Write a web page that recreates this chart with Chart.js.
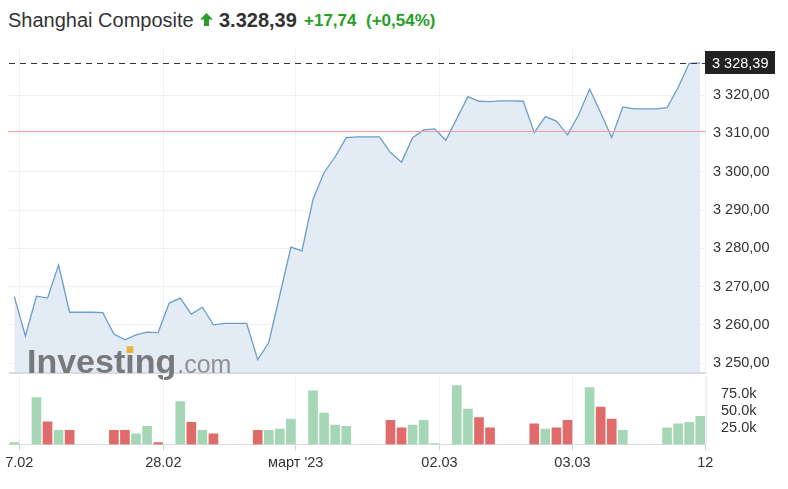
<!DOCTYPE html>
<html>
<head>
<meta charset="utf-8">
<script src="https://cdn.jsdelivr.net/npm/chart.js@4.4.0/dist/chart.umd.min.js"></script>
<style>
  body { margin: 0; background: #fff; font-family: "Liberation Sans", Arial, sans-serif; }
  #wrap { position: relative; width: 788px; height: 489px; overflow: hidden; }
  .t { position: absolute; line-height: 26px; white-space: nowrap; }
  canvas { position: absolute; left: 0; }
</style>
</head>
<body>
<div id="wrap">
  <span class="t" style="left:8px;top:7px;font-size:20px;color:#333">Shanghai Composite</span>
  <svg style="position:absolute;left:200px;top:13px" width="13" height="13" viewBox="0 0 13 13">
    <polygon points="6.5,0 13,6.5 9,6.5 9,13 4,13 4,6.5 0,6.5" fill="#2a9d2a"/>
  </svg>
  <span class="t" style="left:219px;top:7px;font-size:20px;font-weight:bold;color:#333">3.328,39</span>
  <span class="t" style="left:304px;top:8px;font-size:17px;font-weight:bold;color:#25a025">+17,74</span>
  <span class="t" style="left:366px;top:8px;font-size:17px;font-weight:bold;color:#25a025">(+0,54%)</span>
  <canvas id="priceChart" width="788" height="340" style="top:40px"></canvas>
  <canvas id="volChart" width="788" height="113" style="top:376px"></canvas>
</div>
<script>
// price per time slot (index = slot)
const price = [3267.4, 3257.1, 3267.5, 3267.0, 3275.6, 3263.3, 3263.3, 3263.3, 3263.2, 3257.6,
  3256.1, 3257.4, 3258.1, 3258.0, 3265.7, 3267.0, 3262.8, 3264.6, 3260.0, 3260.4,
  3260.4, 3260.4, 3250.9, 3255.4, 3267.8, 3280.3, 3279.3, 3292.8, 3299.8, 3303.9,
  3308.9, 3309.1, 3309.1, 3309.1, 3305.0, 3302.5, 3308.9, 3310.9, 3311.2, 3308.2,
  3313.9, 3319.6, 3318.4, 3318.3, 3318.5, 3318.5, 3318.4, 3310.2, 3314.4, 3313.2,
  3309.6, 3314.8, 3321.6, 3315.4, 3308.9, 3316.9, 3316.4, 3316.4, 3316.4, 3316.7,
  3322.0, 3328.3, 3328.39];

// volume in thousands, null = no trading in that slot
const volume = [3, null, 70, 34, 21, 21, null, null, null, 21,
  21, 16, 27, 3, null, 64, 33, 21, 16, null,
  null, null, 21, 21, 23, 38, null, 80, 47, 29,
  27, null, null, null, 36, 25, 29, 36, 1.5, null,
  88, 53, 40, 25, null, null, null, 31, 23, 25,
  36, null, 85, 56, 38, 21, null, null, null, 25,
  31, 33, 42];

const lastPrice = 3328.39;
const prevClose = 3310.65;

const priceTicks = [3250, 3260, 3270, 3280, 3290, 3300, 3310, 3320];
const volTicks = [25, 50, 75];
const tickLabels = ['7.02', '28.02', "март '23", '02.03', '03.03', '12'];
const tickPos = [0.45, 13.47, 25.44, 38.43, 50.45, 62.45];

const FONT = '"Liberation Sans", Arial, sans-serif';
const X_MIN = -0.57, X_MAX = 62.52;

function fmtPrice(v) {
  const s = v.toFixed(2).split('.');
  return s[0].replace(/\B(?=(\d{3})+(?!\d))/g, ' ') + ',' + s[1];
}

function xScale(withLabels) {
  return {
    type: 'linear', min: X_MIN, max: X_MAX, offset: false,
    afterBuildTicks: s => { s.ticks = tickPos.map(v => ({ value: v })); },
    afterFit: s => {
      s.height = withLabels ? 44.5 : 0;
      s.paddingLeft = 0; s.paddingRight = 0;
    },
    grid: { offset: false, color: '#f1f1f1', drawTicks: withLabels, tickLength: 6, tickColor: '#cfcfcf' },
    border: { display: withLabels, color: '#dcdcdc' },
    ticks: {
      display: withLabels, autoSkip: false, maxRotation: 0, padding: 4,
      color: '#333', font: { family: FONT, size: 14.5 },
      callback: (v, i) => tickLabels[i]
    }
  };
}

const overlays = {
  id: 'overlays',
  afterDatasetsDraw(chart) {
    const ctx = chart.ctx, a = chart.chartArea, y = chart.scales.y;
    ctx.save();
    // previous close
    let py = Math.round(y.getPixelForValue(prevClose));
    ctx.fillStyle = '#f2a0a0';
    ctx.fillRect(a.left, py, a.right - a.left, 1);
    // last price dashed
    let ly = Math.round(y.getPixelForValue(lastPrice)) + 0.5;
    ctx.strokeStyle = '#333'; ctx.lineWidth = 1; ctx.setLineDash([6, 5]);
    ctx.beginPath(); ctx.moveTo(a.left + 1, ly); ctx.lineTo(a.right, ly); ctx.stroke();
    ctx.setLineDash([]);
    // bottom border
    ctx.fillStyle = '#d8dce1';
    ctx.fillRect(a.left + 1, a.bottom, a.right - a.left - 1, 2);
    // watermark
    ctx.globalAlpha = 0.92;
    ctx.textBaseline = 'alphabetic';
    ctx.font = 'bold 34px ' + FONT;
    ctx.fillStyle = '#6f6f6f';
    const wx = 27, wy = a.bottom + 1;
    ctx.fillText('Investing', wx, wy);
    const iw = ctx.measureText('Invest').width, ii = ctx.measureText('i').width;
    const w = ctx.measureText('Investing').width;
    ctx.fillStyle = '#f2b33d';
    ctx.fillRect(wx + iw + ii / 2 - 3.5, wy - 27, 7, 7);
    ctx.font = '25px ' + FONT;
    ctx.fillStyle = '#8a8a8a';
    ctx.fillText('.com', wx + w + 1, wy);
    ctx.globalAlpha = 1;
    // last price label box
    ctx.fillStyle = '#222';
    ctx.fillRect(a.right - 1, ly - 12.5, 70, 23);
    ctx.fillStyle = '#fff';
    ctx.font = '14.5px ' + FONT;
    ctx.textBaseline = 'middle';
    ctx.fillText(fmtPrice(lastPrice), a.right + 6, ly);
    ctx.restore();
  }
};

new Chart(document.getElementById('priceChart'), {
  type: 'line',
  data: {
    datasets: [{
      data: price.map((p, i) => ({ x: i, y: p })),
      borderColor: '#6b9dca',
      borderWidth: 1.3,
      backgroundColor: '#e3ecf5',
      fill: 'start',
      pointRadius: 0,
      tension: 0
    }]
  },
  options: {
    responsive: false, animation: false, devicePixelRatio: 1,
    layout: { padding: { left: 8, top: 8, right: 0, bottom: 8 } },
    plugins: { legend: { display: false }, tooltip: { enabled: false } },
    scales: {
      x: xScale(false),
      y: {
        position: 'right', min: 3247.7, max: 3332.3,
        afterBuildTicks: s => { s.ticks = priceTicks.map(v => ({ value: v })); },
        afterFit: s => { s.width = 82; s.paddingTop = 0; s.paddingBottom = 0; },
        grid: { color: '#f1f1f1', drawTicks: false },
        border: { display: false },
        ticks: { padding: 7, color: '#333', font: { family: FONT, size: 14.5 }, callback: v => fmtPrice(v) }
      }
    }
  },
  plugins: [overlays]
});

const volColors = volume.map((v, i) => (i === 0 || price[i] >= price[i - 1]) ? '#a5d6b6' : '#e06b6b');
const volPoints = [], volPointColors = [];
volume.forEach((v, i) => { if (v !== null) { volPoints.push({ x: i, y: v }); volPointColors.push(volColors[i]); } });

new Chart(document.getElementById('volChart'), {
  type: 'bar',
  data: {
    datasets: [{
      data: volPoints,
      backgroundColor: volPointColors,
      barThickness: 9
    }]
  },
  options: {
    responsive: false, animation: false, devicePixelRatio: 1,
    layout: { padding: { left: 8, top: 0, right: 0, bottom: 0 } },
    plugins: { legend: { display: false }, tooltip: { enabled: false } },
    scales: {
      x: xScale(true),
      y: {
        position: 'right', min: 0, max: 102.2,
        afterBuildTicks: s => { s.ticks = volTicks.map(v => ({ value: v })); },
        afterFit: s => { s.width = 82; s.paddingTop = 0; s.paddingBottom = 0; },
        grid: { display: false },
        border: { display: true, color: '#ececec' },
        ticks: { padding: 7, color: '#333', font: { family: FONT, size: 14.5 }, callback: v => v.toFixed(1) + 'k' }
      }
    }
  }
});
</script>
</body>
</html>
